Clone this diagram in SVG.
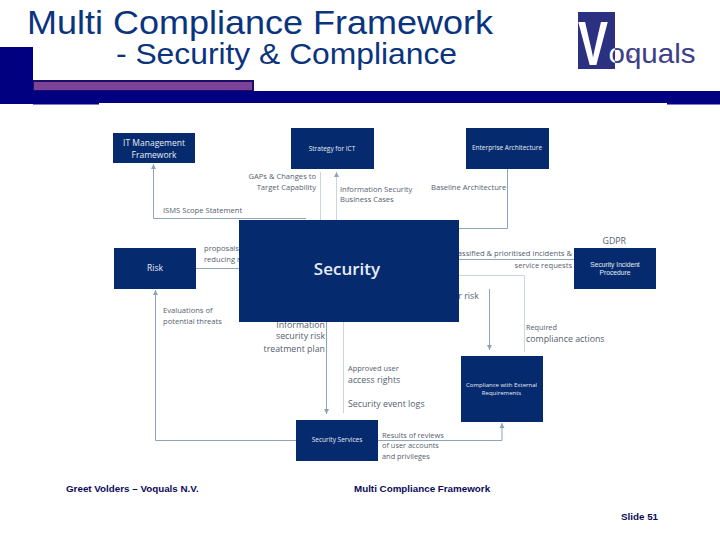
<svg xmlns="http://www.w3.org/2000/svg" width="720" height="540" viewBox="0 0 720 540">
<style>
.t{font-family:"Liberation Sans",Arial,sans-serif;fill:#0a347e}
.n{fill:#052a6e}
.nt{font-family:"Open Sans","Liberation Sans",sans-serif;fill:#e8edf5;text-anchor:middle}
.ns{font-family:"Liberation Sans",Arial,sans-serif;fill:#e8edf5;text-anchor:middle}
.l{font-family:"Open Sans","Liberation Sans",sans-serif;fill:#55606e;font-size:7.600px}
.b{font-size:8.800px}
.e{text-anchor:end}
.f{font-family:"Liberation Sans",Arial,sans-serif;font-size:9.800px;font-weight:bold;fill:#0a0a5c}
.c{fill:none;stroke:#8ba5ba;stroke-width:1}
.d{fill:none;stroke:#c9d6e0;stroke-width:1}
</style>
<defs>
<marker id="a" markerWidth="6" markerHeight="6" refX="5" refY="3" orient="auto"><path d="M0 0.500L5 3L0 5.500Z" fill="#8ba5ba"/></marker>
<linearGradient id="o" gradientUnits="userSpaceOnUse" x1="578" y1="0" x2="696" y2="0"><stop offset="0.314" stop-color="#fff"/><stop offset="0.314" stop-color="#3c4088"/></linearGradient>
</defs>
<rect width="720" height="540" fill="#fff"/>
<g id="banner">
<rect x="0" y="47" width="33" height="57" fill="#000080"/>
<rect x="33" y="80" width="221" height="12" fill="#1a0f66"/>
<rect x="34" y="82" width="218" height="8" fill="#7e4298"/>
<rect x="33" y="91" width="687" height="12" fill="#000080"/>
<rect x="33" y="103" width="66" height="1.500" fill="#000080"/>
<rect x="667" y="103" width="53" height="1.500" fill="#000080"/>
</g>
<g id="title">
<text class="t" x="27" y="33.500" font-size="34" textLength="466" lengthAdjust="spacingAndGlyphs">Multi Compliance Framework</text>
<text class="t" x="116" y="64" font-size="29" textLength="341" lengthAdjust="spacingAndGlyphs">- Security &amp; Compliance</text>
</g>
<g id="logo">
<rect x="578" y="12" width="37" height="57" fill="#2c3080"/>
<text x="578" y="65" font-family="Liberation Sans,sans-serif" font-size="63" font-weight="bold" fill="#fff" textLength="30" lengthAdjust="spacingAndGlyphs">V</text>
<text x="608.500" y="63" font-family="Liberation Sans,sans-serif" font-size="28" fill="url(#o)" textLength="87" lengthAdjust="spacingAndGlyphs">oquals</text>
<circle cx="630.700" cy="56.700" r="1.800" fill="#8a5a9a"/>
</g>
<g id="connectors">
<path class="c" d="M306 218.500H153.500V164" marker-end="url(#a)"/>
<path class="d" d="M320.500 172V220"/>
<path class="d" d="M336.500 220V172" marker-end="url(#a)"/>
<path class="c" d="M507.500 169V228.500H458"/>
<path class="c" d="M574 259.500H458"/>
<path class="d" d="M458 275.500H524.500V352"/>
<path class="c" d="M489.500 289V350" marker-end="url(#a)"/>
<path class="c" d="M196 268.500H240"/>
<path class="c" d="M296 440.500H155.500V290" marker-end="url(#a)"/>
<path class="c" d="M326.500 322V414" marker-end="url(#a)"/>
<path class="d" d="M343.500 322V413"/>
<path class="c" d="M378 440.500H502V423" marker-end="url(#a)"/>
</g>
<g id="it-management"><rect class="n" x="113" y="133" width="82" height="30"/>
<text class="nt" x="154" y="146" font-size="8.500">IT Management</text><text class="nt" x="154" y="158" font-size="8.500">Framework</text></g>
<g id="strategy"><rect class="n" x="291" y="128" width="83" height="41"/>
<text class="nt" x="332" y="151" font-size="6.500">Strategy for ICT</text></g>
<g id="enterprise"><rect class="n" x="466" y="128" width="83" height="41"/>
<text class="nt" x="507" y="150" font-size="6.500">Enterprise Architecture</text></g>
<g id="risk"><rect class="n" x="114" y="248" width="82" height="41"/>
<text class="nt" x="155" y="271" font-size="8.500">Risk</text></g>
<g id="incident"><rect class="n" x="574" y="248" width="82" height="41"/>
<text class="ns" x="615" y="266.500" font-size="6.700">Security Incident</text><text class="ns" x="615" y="274.500" font-size="6.700">Procedure</text></g>
<g id="compliance"><rect class="n" x="461" y="356" width="82" height="66"/>
<text class="nt" x="501.500" y="387" font-size="6">Compliance with External</text><text class="nt" x="501.500" y="395" font-size="6">Requirements</text></g>
<g id="services"><rect class="n" x="296" y="420" width="82" height="41"/>
<text class="nt" x="337" y="442" font-size="6.500">Security Services</text></g>
<g id="labels">
<text class="l e" x="316" y="179">GAPs &amp; Changes to</text>
<text class="l e" x="316" y="190">Target Capability</text>
<text class="l" x="340" y="191.500">Information Security</text>
<text class="l" x="340" y="201.500">Business Cases</text>
<text class="l" x="431" y="190">Baseline Architecture</text>
<text class="l" x="163" y="213">ISMS Scope Statement</text>
<text class="l" x="204" y="251">proposals for</text>
<text class="l" x="204" y="262">reducing risk</text>
<text class="l" x="163" y="313">Evaluations of</text>
<text class="l" x="163" y="324">potential threats</text>
<text class="l e b" x="325" y="328">Information</text>
<text class="l e b" x="325" y="339">security risk</text>
<text class="l e b" x="325" y="352">treatment plan</text>
<text class="l" x="348" y="371" style="font-size:7.400px">Approved user</text>
<text class="l b" x="348" y="383">access rights</text>
<text class="l b" x="348" y="407">Security event logs</text>
<text class="l" x="382" y="438" style="font-size:7.400px">Results of reviews</text>
<text class="l" x="382" y="448" style="font-size:7.400px">of user accounts</text>
<text class="l" x="382" y="459" style="font-size:7.400px">and privileges</text>
<text class="l e" x="572" y="256">Classified &amp; prioritised incidents &amp;</text>
<text class="l e" x="572" y="268">service requests</text>
<text class="l b" x="602.500" y="244">GDPR</text>
<text class="l b" x="438" y="299">Cyber risk</text>
<text class="l" x="526" y="330" style="font-size:7.300px">Required</text>
<text class="l b" x="526" y="341.500">compliance actions</text>
</g>
<g id="security"><rect class="n" x="239" y="220" width="220" height="102"/>
<text class="nt" x="347" y="275" font-size="17" font-weight="600">Security</text></g>
<g id="footer">
<text class="f" x="66" y="492">Greet Volders – Voquals N.V.</text>
<text class="f" x="354" y="492">Multi Compliance Framework</text>
<text class="f" x="621" y="520">Slide 51</text>
</g>
</svg>
